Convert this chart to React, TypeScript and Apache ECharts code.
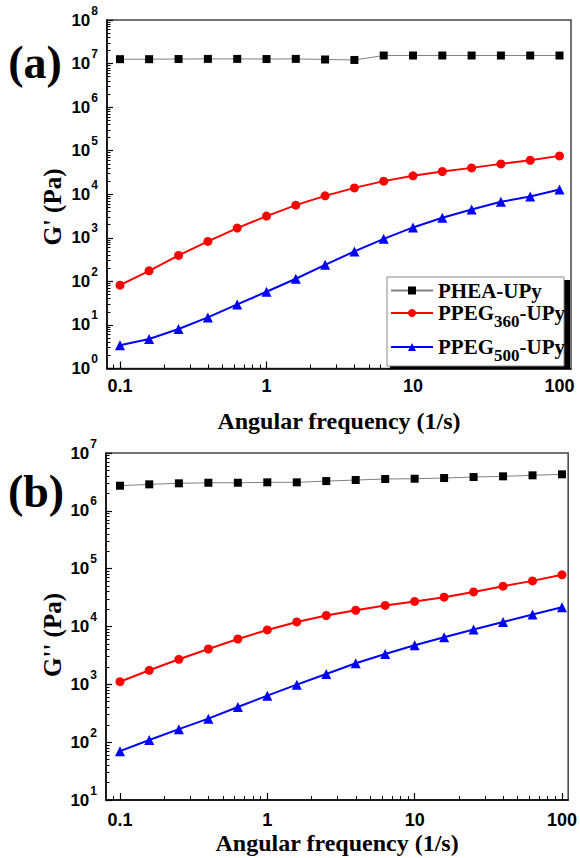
import React, { useEffect, useRef } from 'react';
import * as echarts from 'echarts';

// Angular frequency (1/s)
const frequency = [0.1, 0.158, 0.251, 0.398, 0.631, 1, 1.585, 2.512, 3.981, 6.31, 10, 15.85, 25.12, 39.81, 63.1, 100];

// (a) G' (Pa)
const gPrimePHEA = [1.26e7, 1.26e7, 1.27e7, 1.28e7, 1.28e7, 1.27e7, 1.28e7, 1.24e7, 1.21e7, 1.53e7, 1.53e7, 1.53e7, 1.53e7, 1.53e7, 1.53e7, 1.53e7];
const gPrimePPEG360 = [82, 175, 395, 826, 1670, 3150, 5620, 9180, 14000, 20000, 26500, 33300, 40300, 49800, 60300, 76000];
const gPrimePPEG500 = [3.4, 4.75, 8.05, 14.9, 29.6, 57.7, 115, 240, 488, 948, 1730, 2880, 4480, 6700, 8900, 12900];

// (b) G'' (Pa)
const gDoublePHEA = [2.72e6, 2.87e6, 2.99e6, 3.06e6, 3.06e6, 3.11e6, 3.11e6, 3.27e6, 3.41e6, 3.55e6, 3.59e6, 3.69e6, 3.84e6, 3.95e6, 4.11e6, 4.28e6];
const gDoublePPEG360 = [1110, 1750, 2710, 4080, 6080, 8710, 12000, 15500, 19100, 23100, 27100, 32100, 39600, 49800, 61500, 78200];
const gDoublePPEG500 = [70, 109, 168, 255, 405, 637, 988, 1510, 2310, 3350, 4730, 6510, 8860, 12000, 16100, 21500];

// tick labels (log10 positions)
const xTickValues = [-1, 0, 1, 2];
const xTickLabels = ['0.1', '1', '10', '100'];
const yTickValuesA = [0, 1, 2, 3, 4, 5, 6, 7, 8];
const yTickValuesB = [1, 2, 3, 4, 5, 6, 7];

const seriesNames = ['PHEA-UPy', 'PPEG360-UPy', 'PPEG500-UPy'];

const SERIF = "'Liberation Serif', 'Times New Roman', serif";
const SANS = "'Liberation Sans', Arial, sans-serif";

function minorTicks(lo: number, hi: number) {
  const out: number[] = [];
  for (let n = -3; n <= 9; n++) {
    for (let k = 2; k <= 9; k++) {
      const v = n + Math.log10(k);
      if (v > lo && v < hi) out.push(v);
    }
  }
  return out;
}

const toPts = (ys: number[]) => frequency.map((f, i) => [Math.log10(f), Math.log10(ys[i])]);

export default function App() {
  const ref = useRef<HTMLDivElement>(null);
  useEffect(() => {
    if (!ref.current) return;
    const chart = echarts.init(ref.current, undefined, { renderer: 'svg' });

    const grids = [
      { left: 107, top: 20, width: 464, height: 348.5, xMin: -1.0888, xMax: 2.0785, yMin: 0, yMax: 8, yTicks: yTickValuesA, xLabelMargin: 8, nameGap: 40 },
      { left: 106, top: 453, width: 463, height: 347, xMin: -1.0949, xMax: 2.042, yMin: 1, yMax: 7, yTicks: yTickValuesB, xLabelMargin: 11, nameGap: 31 },
    ];

    const xAxis: any[] = [];
    const yAxis: any[] = [];
    grids.forEach((g, gi) => {
      xAxis.push({
        type: 'value', gridIndex: gi, position: 'bottom', min: g.xMin, max: g.xMax,
        axisLine: { show: true, onZero: false, lineStyle: { color: '#000', width: 1.5 } },
        axisTick: { show: true, inside: true, length: 7, customValues: xTickValues, lineStyle: { color: '#000', width: 1.2 } },
        axisLabel: {
          show: true, customValues: xTickValues, margin: g.xLabelMargin,
          formatter: (v: number) => xTickLabels[xTickValues.indexOf(Math.round(v))],
          color: '#000', fontSize: 18, fontWeight: 'bold', fontFamily: SANS,
        },
        splitLine: { show: false },
        name: 'Angular frequency (1/s)', nameLocation: 'middle', nameGap: g.nameGap,
        nameTextStyle: { color: '#000', fontSize: 24, fontWeight: 'bold', fontFamily: SERIF },
      });
      xAxis.push({
        type: 'value', gridIndex: gi, position: 'bottom', min: g.xMin, max: g.xMax,
        axisLine: { show: false, onZero: false },
        axisTick: { show: true, inside: true, length: 4, customValues: minorTicks(g.xMin, g.xMax), lineStyle: { color: '#000', width: 1 } },
        axisLabel: { show: false },
        splitLine: { show: false },
      });
      yAxis.push({
        type: 'value', gridIndex: gi, position: 'left', min: g.yMin, max: g.yMax,
        axisLine: { show: true, onZero: false, lineStyle: { color: '#000', width: 1.5 } },
        axisTick: { show: true, inside: true, length: 6, customValues: g.yTicks, lineStyle: { color: '#000', width: 1.2 } },
        axisLabel: {
          show: true, customValues: g.yTicks, margin: 9,
          formatter: (v: number) => `{b|10}{s|${Math.round(v)}}`,
          rich: {
            b: { fontSize: 17, fontWeight: 'bold', fontFamily: SANS, color: '#000', lineHeight: 19 },
            s: { fontSize: 12, fontWeight: 'bold', fontFamily: SANS, color: '#000', lineHeight: 12, padding: [0, 0, 19, 1] },
          },
        },
        splitLine: { show: false },
      });
      yAxis.push({
        type: 'value', gridIndex: gi, position: 'left', min: g.yMin, max: g.yMax,
        axisLine: { show: false, onZero: false },
        axisTick: { show: true, inside: true, length: 3.5, customValues: minorTicks(g.yMin, g.yMax), lineStyle: { color: '#000', width: 1 } },
        axisLabel: { show: false },
        splitLine: { show: false },
      });
    });

    const dataSets = [
      [gPrimePHEA, gPrimePPEG360, gPrimePPEG500],
      [gDoublePHEA, gDoublePPEG360, gDoublePPEG500],
    ];
    const styles = [
      { symbol: 'rect', symbolSize: 8, color: '#000', line: '#808080', width: 1 },
      { symbol: 'circle', symbolSize: 9, color: '#ff0000', line: '#ff0000', width: 2 },
      { symbol: 'triangle', symbolSize: 10, color: '#0000ff', line: '#0000ff', width: 2 },
    ];
    const series: any[] = [];
    dataSets.forEach((set, gi) => {
      set.forEach((ys, si) => {
        const st = styles[si];
        series.push({
          type: 'line', name: seriesNames[si], xAxisIndex: gi * 2, yAxisIndex: gi * 2,
          data: toPts(ys), symbol: st.symbol, symbolSize: st.symbolSize,
          itemStyle: { color: st.color },
          lineStyle: { color: st.line, width: st.width },
          z: 3 + si,
        });
      });
    });

    const richLegend = {
      m: { fontSize: 21, fontWeight: 'bold', fontFamily: SERIF, color: '#000', lineHeight: 24 },
      s: { fontSize: 17, fontWeight: 'bold', fontFamily: SERIF, color: '#000', lineHeight: 17, padding: [17, 0, 0, 0] },
    };
    const legendBase = {
      orient: 'vertical', left: 390, itemWidth: 42, itemHeight: 10, padding: 0, itemGap: 0,
      selectedMode: false, z: 10, textStyle: { rich: richLegend },
    };
    const legend = [
      { ...legendBase, top: 280, data: [seriesNames[0]], formatter: () => '{m|PHEA-UPy}' },
      { ...legendBase, top: 296, data: [seriesNames[1]], formatter: () => '{m|PPEG}{s|360}{m|-UPy}' },
      { ...legendBase, top: 330, data: [seriesNames[2]], formatter: () => '{m|PPEG}{s|500}{m|-UPy}' },
    ];

    const txt = (text: string, x: number, y: number, size: number, rotation = 0) => ({
      type: 'text', x, y, rotation, z: 10,
      style: {
        text, fill: '#000', font: `bold ${size}px ${SERIF}`,
        align: 'center', verticalAlign: 'middle', textAlign: 'center', textVerticalAlign: 'middle',
      },
    });

    chart.setOption({
      animation: false,
      backgroundColor: '#fff',
      grid: grids.map((g) => ({
        left: g.left, top: g.top, width: g.width, height: g.height,
        show: true, borderColor: '#444', borderWidth: 1.5, backgroundColor: 'transparent',
      })),
      xAxis, yAxis, series, legend,
      graphic: [
        { type: 'rect', z: 8, shape: { x: 390, y: 280, width: 180, height: 89 }, style: { fill: '#000' } },
        { type: 'rect', z: 9, shape: { x: 387, y: 277, width: 177, height: 89 }, style: { fill: '#fff', stroke: '#888', lineWidth: 1 } },
        txt('(a)', 35, 62, 46),
        txt('(b)', 36, 491, 46),
        txt("G' (Pa)", 52, 207, 25, Math.PI / 2),
        txt("G'' (Pa)", 52, 635, 25, Math.PI / 2),
      ],
    });
    return () => chart.dispose();
  }, []);
  return <div ref={ref} style={{ position: 'absolute', left: 0, top: 0, width: 580, height: 858 }} />;
}
